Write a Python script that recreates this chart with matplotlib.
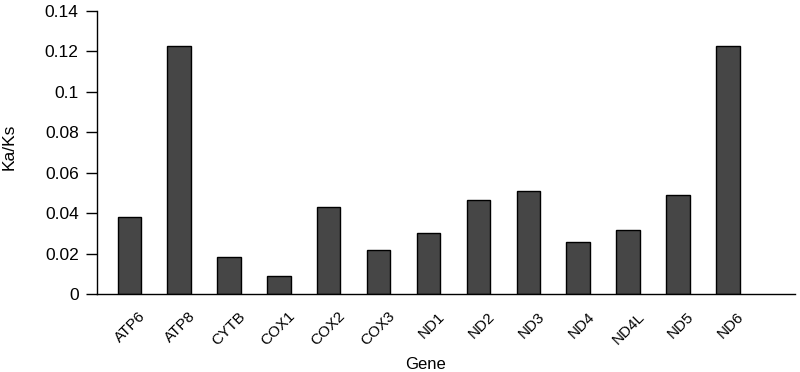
import matplotlib
matplotlib.use("Agg")
import matplotlib.pyplot as plt
import matplotlib.transforms as mtransforms

genes = ["ATP6", "ATP8", "CYTB", "COX1", "COX2", "COX3", "ND1",
         "ND2", "ND3", "ND4", "ND4L", "ND5", "ND6"]
ka_ks = [0.038, 0.1229, 0.0182, 0.0091, 0.043, 0.0216, 0.0302,
         0.0465, 0.051, 0.0256, 0.0318, 0.0488, 0.1229]
y_ticks = [0, 0.02, 0.04, 0.06, 0.08, 0.1, 0.12, 0.14]
y_tick_labels = ["0", "0.02", "0.04", "0.06", "0.08", "0.1", "0.12", "0.14"]

plt.rcParams["font.family"] = ["Liberation Sans", "DejaVu Sans"]

fig = plt.figure(figsize=(8, 3.72), dpi=100)
ax = fig.add_axes([0.121, 0.2097, 0.873, 0.7607])

x = list(range(len(genes)))
ax.bar(x, ka_ks, width=0.47, color="#464646", edgecolor="black", linewidth=1)

ax.set_xlim(-0.65, 13.35)
ax.set_ylim(0, 0.14)
ax.set_yticks(y_ticks)
ax.set_yticklabels(y_tick_labels, fontsize=12.5)
ax.tick_params(axis="y", direction="out", length=8, width=1, pad=5)

ax.set_xticks(x)
ax.set_xticklabels(genes, fontsize=11, rotation=45, ha="right", va="top",
                   rotation_mode="anchor")
ax.tick_params(axis="x", length=0, pad=11)
offset = mtransforms.ScaledTranslation(9 / 100, 0, fig.dpi_scale_trans)
for lbl in ax.get_xticklabels():
    lbl.set_transform(lbl.get_transform() + offset)

for side in ("top", "right"):
    ax.spines[side].set_visible(False)
for side in ("left", "bottom"):
    ax.spines[side].set_linewidth(1)
    ax.spines[side].set_color("black")

ax.set_ylabel("Ka/Ks", fontsize=12.5)
ax.yaxis.set_label_coords(-0.1146, 0.52)
ax.set_xlabel("Gene", fontsize=12)
ax.xaxis.set_label_coords(0.471, -0.222)

fig.savefig("out.png", dpi=100)
